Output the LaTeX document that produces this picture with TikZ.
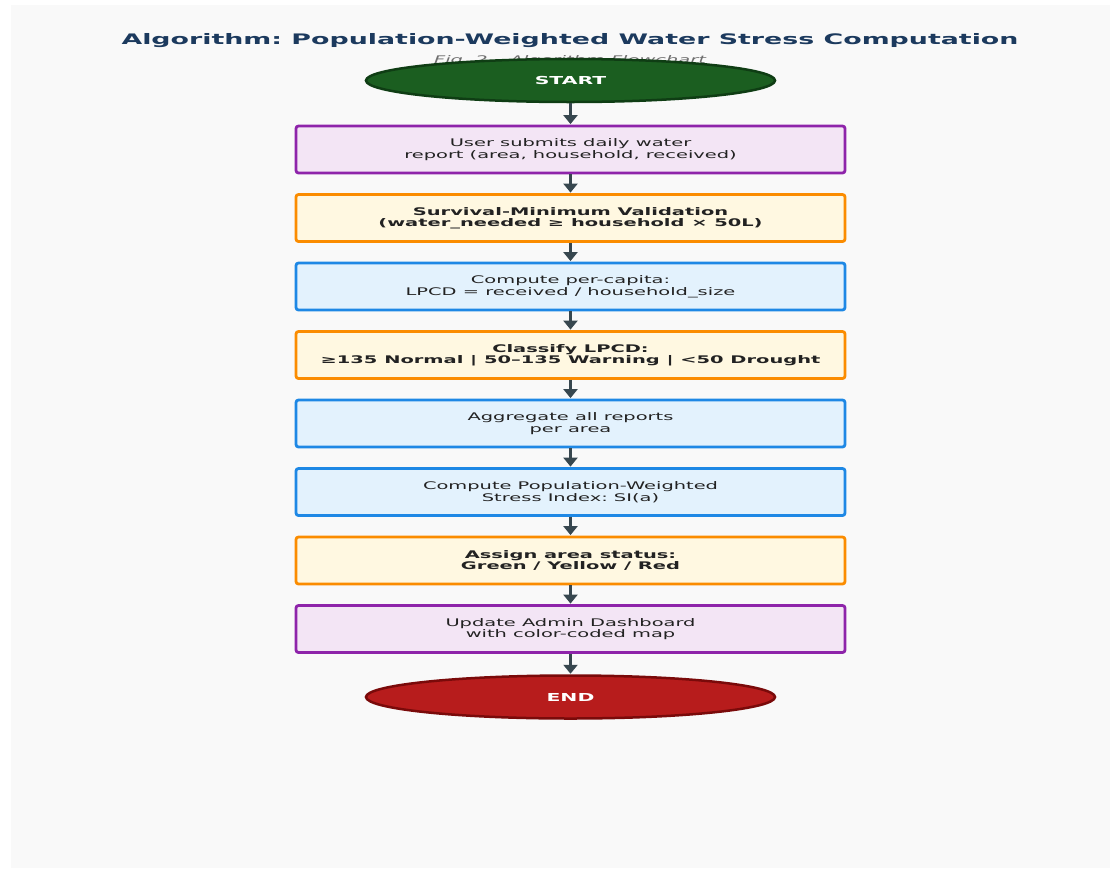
\documentclass[tikz,border=0pt]{standalone}
\usepackage{fontspec}
\setmainfont{DejaVu Sans}[FakeStretch=1.85]
\usepackage{tikz}
\usetikzlibrary{shapes.geometric,arrows.meta}
\frenchspacing

\definecolor{panelbg}{HTML}{F9F9F9}
\definecolor{titleblue}{HTML}{1C3A5E}
\definecolor{subgrey}{HTML}{6E6E6E}
\definecolor{txtdark}{HTML}{222222}
\definecolor{arrowgrey}{HTML}{37474F}
\definecolor{startfill}{HTML}{1B5E20}
\definecolor{startline}{HTML}{0F3D14}
\definecolor{endfill}{HTML}{B71C1C}
\definecolor{endline}{HTML}{7A0A0A}
\definecolor{purpfill}{HTML}{F3E5F5}
\definecolor{purpline}{HTML}{8E24AA}
\definecolor{orfill}{HTML}{FFF8E1}
\definecolor{orline}{HTML}{FB8C00}
\definecolor{bluefill}{HTML}{E3F2FD}
\definecolor{blueline}{HTML}{1E88E5}

\tikzset{
  stepbase/.style={rectangle, rounded corners=2.5pt, line width=2.8pt,
    minimum width=549pt, minimum height=47pt, inner sep=0pt, align=center,
    text=txtdark, font=\fontsize{10.5}{11.5}\selectfont},
  inputbox/.style={stepbase, draw=purpline, fill=purpfill},
  checkbox/.style={stepbase, draw=orline, fill=orfill, font=\fontsize{10.5}{11.5}\selectfont\bfseries},
  calcbox/.style={stepbase, draw=blueline, fill=bluefill},
  terminal/.style={ellipse, line width=2.5pt, minimum width=409pt, minimum height=43pt,
    inner sep=0pt, text=white, font=\fontsize{11}{12}\selectfont\bfseries},
  flow/.style={-{Triangle[width=14pt,length=9pt]}, line width=3.2pt, draw=arrowgrey, shorten >=0.5pt}
}

\begin{document}
\begin{tikzpicture}[x=1pt,y=-1pt]
        \useasboundingbox (0,0) rectangle (1117,871);
        \fill[panelbg] (11,5) rectangle (1110,868);

        \node (title) at (570,41) {\fontsize{14.5}{16}\selectfont\bfseries\color{titleblue}Algorithm: Population-Weighted Water Stress Computation};
        \node (subtitle) at (570,61) {\fontsize{10.5}{12}\selectfont\itshape\color{subgrey}Fig. 2 – Algorithm Flowchart};

        \node[terminal, draw=startline, fill=startfill] (start) at (570.5,80.5) {START};
        \node[inputbox] (submit) at (570.5,149.5) {User submits daily water\\report (area, household, received)};
        \node[checkbox] (validate) at (570.5,218) {Survival-Minimum Validation\\(water\_needed ≥ household × 50L)};
        \node[calcbox] (lpcd) at (570.5,286.5) {Compute per-capita:\\LPCD = received / household\_size};
        \node[checkbox] (classify) at (570.5,355) {Classify LPCD:\\≥135 Normal | 50–135 Warning | <50 Drought};
        \node[calcbox] (aggregate) at (570.5,423.5) {Aggregate all reports\\per area};
        \node[calcbox] (stress) at (570.5,492) {Compute Population-Weighted\\Stress Index: SI(a)};
        \node[checkbox] (status) at (570.5,560.5) {Assign area status:\\Green / Yellow / Red};
        \node[inputbox] (dashboard) at (570.5,629) {Update Admin Dashboard\\with color-coded map};
        \node[terminal, draw=endline, fill=endfill] (finish) at (570.5,697) {END};

        \draw[flow] (start) -- (submit);
        \draw[flow] (submit) -- (validate);
        \draw[flow] (validate) -- (lpcd);
        \draw[flow] (lpcd) -- (classify);
        \draw[flow] (classify) -- (aggregate);
        \draw[flow] (aggregate) -- (stress);
        \draw[flow] (stress) -- (status);
        \draw[flow] (status) -- (dashboard);
        \draw[flow] (dashboard) -- (finish);
    \end{tikzpicture}
\end{document}
